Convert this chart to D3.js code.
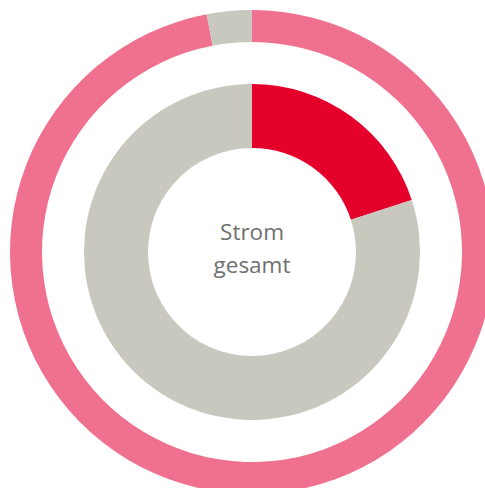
<!DOCTYPE html>
<html>
<head>
<meta charset="utf-8">
<script src="https://cdn.jsdelivr.net/npm/d3@7"></script>
<style>
  html, body { margin: 0; padding: 0; background: #fff; }
  svg { display: block; }
</style>
</head>
<body>
<svg id="chart" width="485" height="488"></svg>
<script>
// outer ring: share vs. rest, inner ring: share vs. rest (percent)
var outerLabels = ["Anteil", "Rest"],
   outerValues = [97, 3],
   outerColors = ["#f07090", "#c8c8bf"],
   innerLabels = ["Anteil", "Rest"],
   innerValues = [20, 80],
   innerColors = ["#e4002b", "#c8c8bf"],
   centerLines = ["Strom", "gesamt"];

var svg = d3.select("#chart"),
   cx = 252,
   cy = 252;

var g = svg.append("g").attr("transform", "translate(" + cx + "," + cy + ")");

// innen: clockwise from top
var pieInner = d3.pie().sort(null).value(function (d) { return d; });
// aussen: the small part sits left of 12 o'clock
var pieOuter = d3.pie().sort(null).value(function (d) { return d; })
   .startAngle(0).endAngle(2 * Math.PI);

var arcOuter = d3.arc().innerRadius(210).outerRadius(242),
   arcInner = d3.arc().innerRadius(104).outerRadius(168);

g.selectAll(".outer").data(pieOuter(outerValues)).enter().append("path")
   .attr("class", "outer")
   .attr("d", arcOuter)
   .attr("fill", function (d, i) { return outerColors[i]; });

g.selectAll(".inner").data(pieInner(innerValues)).enter().append("path")
   .attr("class", "inner")
   .attr("d", arcInner)
   .attr("fill", function (d, i) { return innerColors[i]; });

g.selectAll(".label").data(centerLines).enter().append("text")
   .attr("class", "label")
   .attr("text-anchor", "middle")
   .attr("x", 0)
   .attr("y", function (d, i) { return -12 + i * 33; })
   .attr("font-family", "'Open Sans', sans-serif")
   .attr("font-size", 22.5)
   .attr("fill", "#707070")
   .text(function (d) { return d; });
</script>
</body>
</html>
